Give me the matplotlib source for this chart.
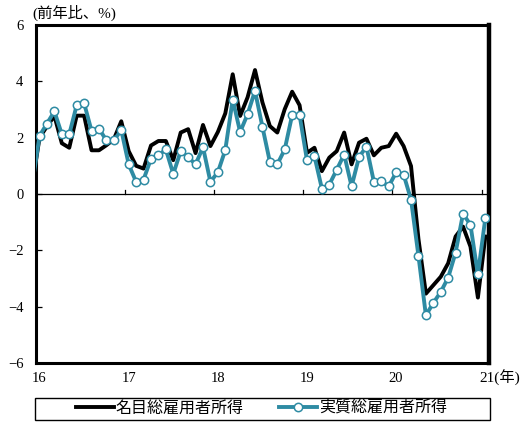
import numpy as np
import matplotlib
matplotlib.use('Agg')
import matplotlib.pyplot as plt
from matplotlib.lines import Line2D
from matplotlib.patches import Rectangle

# 月次データ（2015年12月〜2021年1月、前年比 %）
nominal = [0.3,
           2.0, 2.4, 2.77, 1.8, 1.64, 2.78, 2.78, 1.55, 1.55, 1.73, 1.94, 2.58,
           1.52, 1.0, 0.9, 1.72, 1.88, 1.88, 1.2, 2.18, 2.3, 1.45, 2.45, 1.7,
           2.2, 2.86, 4.25, 2.77, 3.43, 4.4, 3.25, 2.41, 2.18, 3.01, 3.63, 3.15,
           1.46, 1.64, 0.81, 1.29, 1.52, 2.18, 1.05, 1.82, 1.96, 1.37, 1.64, 1.7,
           2.14, 1.7, 0.99, -1.6, -3.54, -3.24, -2.94, -2.46, -1.51, -1.16, -1.87, -3.68,
           -1.51]
real = [0.3,
        2.06, 2.5, 2.93, 2.12, 2.12, 3.15, 3.22, 2.24, 2.32, 1.9, 1.9, 2.27,
        1.05, 0.43, 0.51, 1.25, 1.37, 1.58, 0.71, 1.52, 1.31, 1.05, 1.66, 0.43,
        0.77, 1.56, 3.35, 2.2, 2.83, 3.66, 2.38, 1.14, 1.05, 1.58, 2.8, 2.8,
        1.19, 1.34, 0.19, 0.33, 0.86, 1.4, 0.27, 1.31, 1.68, 0.43, 0.45, 0.27,
        0.77, 0.69, -0.2, -2.2, -4.31, -3.87, -3.48, -2.97, -2.08, -0.70, -1.1, -2.86,
        -0.86]
labels = ['名目総雇用者所得', '実質総雇用者所得']
years = [16, 17, 18, 19, 20, 21]
yticks = [-6, -4, -2, 0, 2, 4, 6]

# 各月の中央に点を置く（最初の点は2015年12月）
x = 16 + (np.arange(len(real)) - 0.5) / 12

teal = '#2e8ba3'
jp = ['Liberation Serif', 'Noto Sans CJK JP']

fig = plt.figure(figsize=(5.23, 4.23), dpi=100)
ax = fig.add_axes([0.0685, 0.142, 0.866, 0.799])

ax.plot(x, nominal, color='black', lw=2.8, zorder=3, label=labels[0])
ax.plot(x, real, color=teal, lw=2.8, marker='o', ms=6, mfc='white',
        mec=teal, mew=1.1, markevery=slice(1, None), zorder=4, label=labels[1])

ax.set_xlim(16, 21.08)
ax.set_ylim(-6, 6)

# ゼロ線と年の目盛り
ax.axhline(0, color='black', lw=0.9, zorder=2)
for yr in years[1:]:
    ax.plot([yr, yr], [0, 0.15], color='black', lw=0.9, zorder=2)

ax.set_xticks([])
ax.set_yticks(yticks)
ax.set_yticklabels([f'{v}'.replace('-', '−') for v in yticks],
                   family='Liberation Serif', fontsize=10.5)
ax.tick_params(axis='y', direction='in', length=4, width=0.9, pad=9)

for s in ax.spines.values():
    s.set_linewidth(2.2)
ax.spines['right'].set_linewidth(3.2)

for yr in years[:-1]:
    ax.text(yr + 0.04, -6.55, str(yr), ha='center', va='center',
            family='Liberation Serif', fontsize=10.5, clip_on=False)
ax.text(20.975, -6.55, '21(年)', ha='left', va='center',
        family=jp, fontsize=11, clip_on=False)

fig.text(0.062, 0.97, '(前年比、%)', ha='left', va='center',
         family=jp, fontsize=11)

# 凡例
fig.patches.append(Rectangle((0.067, 0.008), 0.87, 0.052, transform=fig.transFigure,
                             fill=False, edgecolor='black', lw=1.0))
handles = [Line2D([], [], color='black', lw=2.8),
           Line2D([], [], color=teal, lw=2.8, marker='o', ms=6, mfc='white',
                  mec=teal, mew=1.1)]
fig.legend(handles, labels, loc='center', bbox_to_anchor=(0.5, 0.034), ncol=2,
           frameon=False, prop={'family': jp, 'size': 11.5}, handlelength=2.4,
           handletextpad=0.1, columnspacing=2.2, borderpad=0.1)

fig.savefig('out.png', dpi=100)
